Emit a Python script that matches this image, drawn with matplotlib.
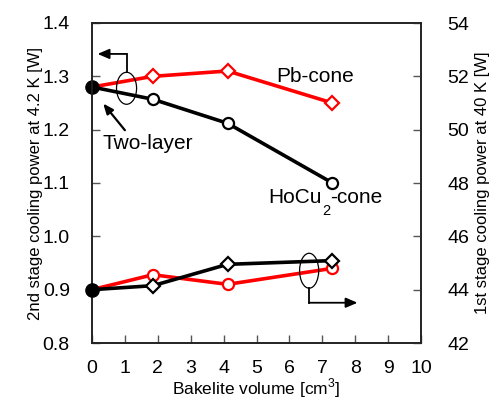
import matplotlib
matplotlib.use("Agg")
import matplotlib.pyplot as plt
from matplotlib.patches import Ellipse

plt.rcParams['font.family'] = ['Liberation Sans', 'DejaVu Sans']
plt.rcParams['mathtext.fontset'] = 'custom'
plt.rcParams['mathtext.rm'] = 'Liberation Sans'

# bakelite volume [cm3]
vol = [0, 1.85, 4.12, 7.31]
# 2nd stage cooling power at 4.2 K [W]
pb_2nd = [1.28, 1.300, 1.310, 1.250]
hocu_2nd = [1.28, 1.257, 1.212, 1.100]
# 1st stage cooling power at 40 K [W]
pb_1st = [44.0, 44.56, 44.20, 44.80]
hocu_1st = [44.0, 44.15, 44.95, 45.09]

xticks = list(range(0, 11))
yticks_l = [0.8, 0.9, 1.0, 1.1, 1.2, 1.3, 1.4]
yticks_r = [42, 44, 46, 48, 50, 52, 54]

fig = plt.figure(figsize=(4.91, 3.99), dpi=100)
ax = fig.add_axes([92/491, 1-343/399, 329/491, 320/399])
ax2 = ax.twinx()

red = '#ff0000'
lw = 2.6

# top group (left axis)
ax.plot(vol, pb_2nd, color=red, lw=lw, marker='D', ms=7, mfc='white',
        mec=red, mew=1.6, markevery=slice(1, None), zorder=3, clip_on=False)
ax.plot(vol, hocu_2nd, color='black', lw=lw, marker='o', ms=8, mfc='white',
        mec='black', mew=1.6, markevery=slice(1, None), zorder=3, clip_on=False)
ax.plot(vol[0], pb_2nd[0], 'o', color='black', ms=9.5, zorder=4, clip_on=False)

# bottom group (right axis)
ax2.plot(vol, pb_1st, color=red, lw=lw, marker='o', ms=8, mfc='white',
         mec=red, mew=1.6, markevery=slice(1, None), zorder=3, clip_on=False)
ax2.plot(vol, hocu_1st, color='black', lw=lw, marker='D', ms=7, mfc='white',
         mec='black', mew=1.6, markevery=slice(1, None), zorder=3, clip_on=False)
ax2.plot(vol[0], pb_1st[0], 'o', color='black', ms=9.5, zorder=4, clip_on=False)

ax.set_xlim(0, 10)
ax.set_ylim(0.8, 1.4)
ax2.set_ylim(42, 54)
ax.set_xticks(xticks)
ax.set_yticks(yticks_l)
ax.set_yticklabels(['%.1f' % v for v in yticks_l])
ax2.set_yticks(yticks_r)

ax.tick_params(axis='x', direction='in', length=6, width=1, color='#555555',
               labelsize=14, pad=12)
ax.tick_params(axis='y', direction='in', length=6, width=1, color='#555555',
               labelsize=14, pad=16)
ax2.tick_params(axis='y', direction='in', length=6, width=1, color='#555555',
                labelsize=14, pad=19)
for a in (ax, ax2):
    for s in a.spines.values():
        s.set_linewidth(1.2)
        s.set_color('#222222')

ax.set_xlabel('Bakelite volume [cm$^3$]', fontsize=12.5, labelpad=0)
ax.set_ylabel('2nd stage cooling power at 4.2 K [W]', fontsize=12, labelpad=0)
ax2.set_ylabel('1st stage cooling power at 40 K [W]', fontsize=12, labelpad=4)

# labels
ax.text(5.59, 1.290, 'Pb-cone', fontsize=15, ha='left', va='baseline')
t1 = ax.text(5.35, 1.0625, 'HoCu', fontsize=15, ha='left', va='baseline')
t2 = ax.annotate('2', xy=(1, 0), xycoords=t1, xytext=(0.3, 2.5),
                 textcoords='offset points', fontsize=10.5, ha='left', va='top')
ax.annotate('-cone', xy=(1, 0), xycoords=(t2, t1), xytext=(0.3, 0),
            textcoords='offset points', fontsize=15, ha='left', va='bottom')
ax.text(0.33, 1.163, 'Two-layer', fontsize=15, ha='left', va='baseline')
ax.annotate('', xy=(0.34, 1.249), xytext=(1.0, 1.199),
            arrowprops=dict(arrowstyle='-|>,head_length=0.6,head_width=0.25',
                            color='black', lw=1.6, shrinkA=0, shrinkB=0))

# left-pointing group marker
ax.add_patch(Ellipse((1.05, 1.2776), 0.61, 0.06, fill=False, lw=0.9,
                     color='black', zorder=5))
ax.plot([1.05, 1.05], [1.3076, 1.342], color='black', lw=1.3)
ax.annotate('', xy=(0.17, 1.342), xytext=(1.05, 1.342),
            arrowprops=dict(arrowstyle='-|>,head_length=0.7,head_width=0.3',
                            color='black', lw=1.3, shrinkA=0, shrinkB=0))

# right-pointing group marker
ax2.add_patch(Ellipse((6.60, 44.71), 0.58, 1.31, fill=False, lw=0.9,
                      color='black', zorder=5))
ax2.plot([6.60, 6.60], [44.055, 43.51], color='black', lw=1.3)
ax2.annotate('', xy=(8.07, 43.51), xytext=(6.60, 43.51),
             arrowprops=dict(arrowstyle='-|>,head_length=0.7,head_width=0.3',
                             color='black', lw=1.3, shrinkA=0, shrinkB=0))

fig.savefig('out.png', dpi=100)
